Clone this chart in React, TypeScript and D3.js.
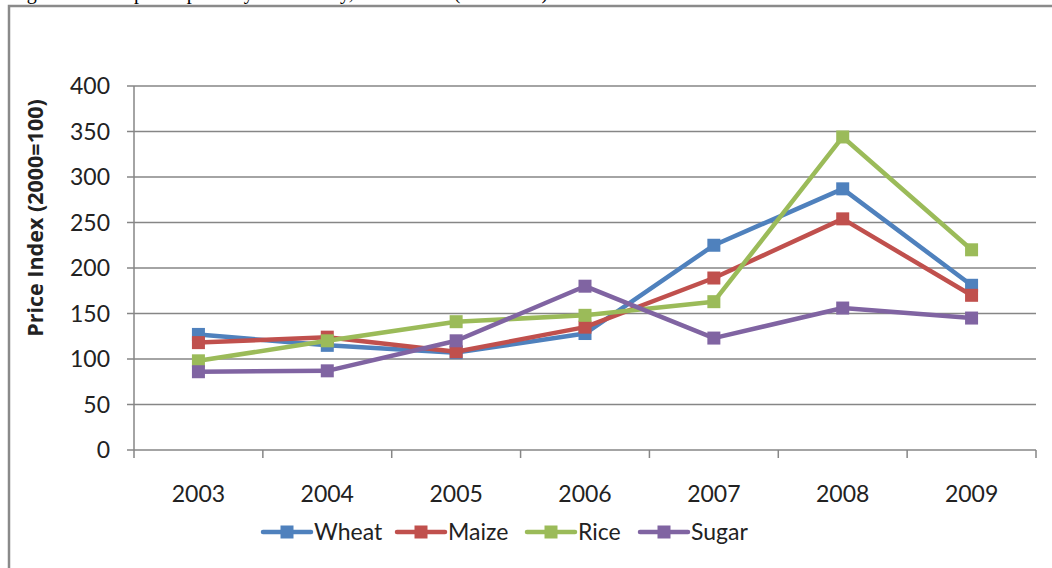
import * as d3 from 'd3';

const years = ['2003', '2004', '2005', '2006', '2007', '2008', '2009'];
const wheat = [127, 115, 107, 128, 225, 287, 181];
const maize = [118, 124, 108, 135, 189, 254, 170];
const rice = [98, 120, 141, 148, 163, 344, 220];
const sugar = [86, 87, 120, 180, 123, 156, 145];
const yTicks = [0, 50, 100, 150, 200, 250, 300, 350, 400];

const seriesNames = ['Wheat', 'Maize', 'Rice', 'Sugar'];
const seriesValues = [wheat, maize, rice, sugar];
const colors = ['#4F81BD', '#C0504D', '#9BBB59', '#8064A2'];

const W = 1052;
const H = 568;
const font = 'Lato, Calibri, sans-serif';

export default function App() {
    const left = 134;
    const right = 1036;
    const top = 86;
    const bottom = 450;

    const x = d3.scaleBand<string>().domain(years).range([left, right]);
    const y = d3.scaleLinear().domain([0, 400]).range([bottom, top]);

    const line = d3
        .line<number>()
        .x((_, i) => x(years[i])! + x.bandwidth() / 2)
        .y((d) => y(d));

    const gridColor = '#868686';
    const marker = 13;

    // legend item start positions
    const legendX = [263, 397, 527, 640];
    const legendY = 532;

    return (
        <svg width={W} height={H} style={{ position: 'absolute', left: 0, top: 0, background: '#fff' }}>
            {/* figure caption, cut off at the top as in the source */}
            <text x={10} y={-1} fontFamily="'Times New Roman', 'Liberation Serif', serif" fontSize={20} fill="#000">
                Figure 1: Food price spikes by commodity, 2003–2009 (2000=100)
            </text>

            {/* frame */}
            <rect x={9} y={6} width={W + 20} height={H + 20} fill="none" stroke="#8a8a8a" strokeWidth={2.5} />

            {/* gridlines + y ticks */}
            {yTicks.map((t) => (
                <g key={t}>
                    <line x1={left - 7} x2={right} y1={y(t)} y2={y(t)} stroke={gridColor} strokeWidth={1.5} />
                    <text x={110} y={y(t)} dy="0.35em" textAnchor="end" fontFamily={font} fontSize={23} fill="#222">
                        {t}
                    </text>
                </g>
            ))}

            {/* y axis */}
            <line x1={left} x2={left} y1={top} y2={bottom + 8} stroke={gridColor} strokeWidth={1.5} />

            {/* x ticks */}
            {years.map((yr) => (
                <line key={'t' + yr} x1={x(yr)! + x.bandwidth()} x2={x(yr)! + x.bandwidth()} y1={bottom} y2={bottom + 8} stroke={gridColor} strokeWidth={1.5} />
            ))}
            {years.map((yr) => (
                <text key={yr} x={x(yr)! + x.bandwidth() / 2} y={502} textAnchor="middle" fontFamily={font} fontSize={23} fill="#222">
                    {yr}
                </text>
            ))}

            {/* y title */}
            <text transform={`translate(43,218) rotate(-90)`} textAnchor="middle" fontFamily="'Open Sans', sans-serif" fontWeight="bold" fontSize={21.5} fill="#222">
                Price Index (2000=100)
            </text>

            {/* series */}
            {seriesValues.map((vals, si) => (
                <g key={seriesNames[si]}>
                    <path d={line(vals)!} fill="none" stroke={colors[si]} strokeWidth={4.5} strokeLinejoin="round" />
                    {vals.map((v, i) => (
                        <rect
                            key={i}
                            x={x(years[i])! + x.bandwidth() / 2 - marker / 2}
                            y={y(v) - marker / 2}
                            width={marker}
                            height={marker}
                            fill={colors[si]}
                        />
                    ))}
                </g>
            ))}

            {/* legend */}
            {seriesNames.map((name, i) => (
                <g key={'l' + name} transform={`translate(${legendX[i]},${legendY})`}>
                    <line x1={0} x2={48} y1={0} y2={0} stroke={colors[i]} strokeWidth={4.5} strokeLinecap="round" />
                    <rect x={24 - marker / 2} y={-marker / 2} width={marker} height={marker} fill={colors[i]} />
                    <text x={51} y={0} dy="0.36em" fontFamily={font} fontSize={23} fill="#222">
                        {name}
                    </text>
                </g>
            ))}
        </svg>
    );
}
